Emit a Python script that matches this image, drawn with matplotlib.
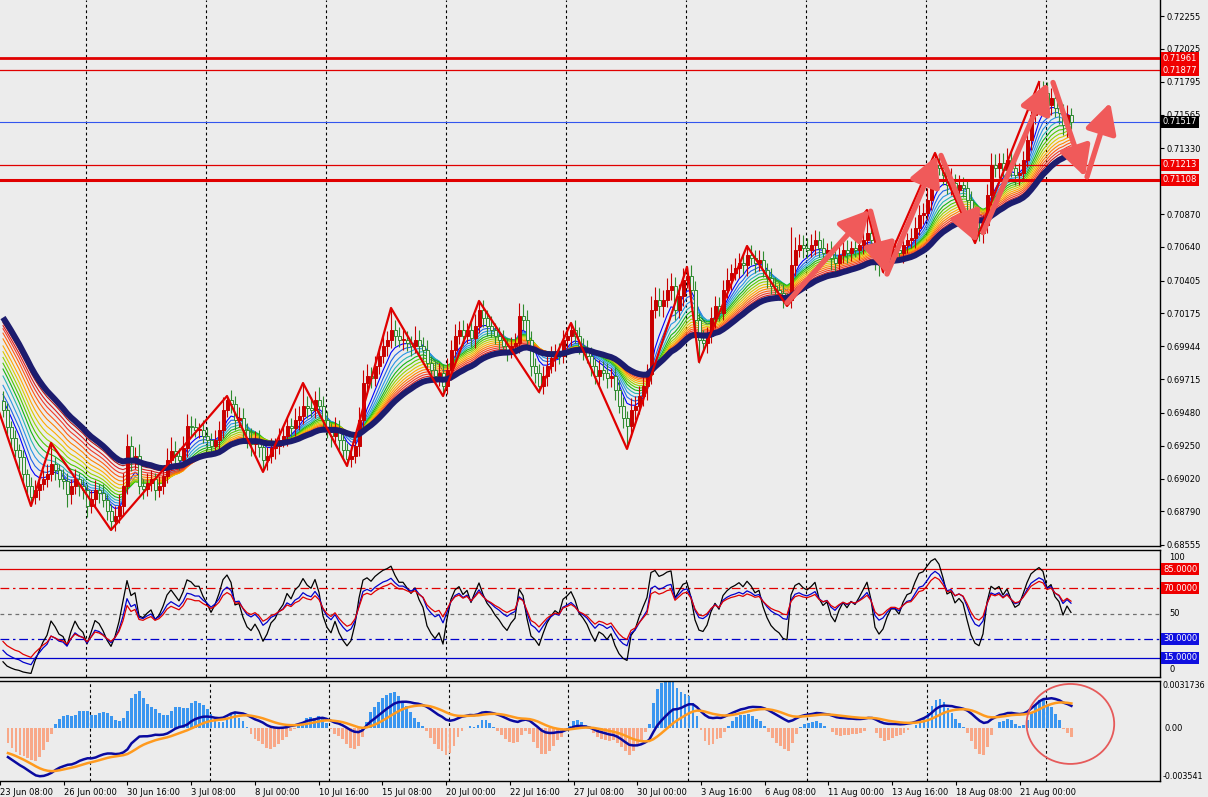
import matplotlib
matplotlib.use('Agg')
import matplotlib.pyplot as plt
from matplotlib.patches import Ellipse

plt.rcParams['font.family'] = ['DejaVu Sans']

# ---- price data (H4 closes) ----
closes = [
    0.6950, 0.6938, 0.6930, 0.6922, 0.6917, 0.6905, 0.6897, 0.6889, 0.6894, 0.6898,
    0.6902, 0.6905, 0.6912, 0.6908, 0.6902, 0.6900, 0.6891, 0.6897, 0.6902, 0.6897,
    0.6894, 0.6883, 0.6888, 0.6894, 0.6892, 0.6887, 0.6879, 0.6872, 0.6876, 0.6883,
    0.6897, 0.6925, 0.6914, 0.6918, 0.6897, 0.6895, 0.6899, 0.6902, 0.6894, 0.6897,
    0.6904, 0.6915, 0.6921, 0.6918, 0.6915, 0.6923, 0.6939, 0.6938, 0.6936, 0.6936,
    0.6932, 0.6929, 0.6925, 0.6929, 0.6936, 0.6950, 0.6957, 0.6954, 0.6943, 0.6944,
    0.6936, 0.6929, 0.6926, 0.6929, 0.6924, 0.6915, 0.6918, 0.6923, 0.6925, 0.6929,
    0.6932, 0.6939, 0.6937, 0.6943, 0.6946, 0.6953, 0.6951, 0.6950, 0.6957, 0.6953,
    0.6943, 0.6936, 0.6932, 0.6937, 0.6929, 0.6922, 0.6916, 0.6918, 0.6925, 0.6943,
    0.6969, 0.6974, 0.6972, 0.6981, 0.6988, 0.6995, 0.6999, 0.7006, 0.7002, 0.6999,
    0.6999, 0.6997, 0.6995, 0.6999, 0.6995, 0.6992, 0.6983, 0.6978, 0.6974, 0.6976,
    0.6967, 0.6978, 0.6992, 0.7002, 0.7006, 0.7002, 0.7006, 0.7000, 0.7009, 0.7020,
    0.7014, 0.7009, 0.7006, 0.7002, 0.6999, 0.6995, 0.6992, 0.6995, 0.6997, 0.7016,
    0.7013, 0.6999, 0.6981, 0.6976, 0.6967, 0.6974, 0.6981, 0.6986, 0.6990, 0.6988,
    0.6999, 0.7002, 0.7006, 0.7002, 0.6995, 0.6992, 0.6988, 0.6981, 0.6974, 0.6978,
    0.6976, 0.6972, 0.6974, 0.6964, 0.6953, 0.6944, 0.6939, 0.6950, 0.6953, 0.6960,
    0.6967, 0.6975, 0.7020, 0.7027, 0.7023, 0.7027, 0.7034, 0.7037, 0.7020, 0.7030,
    0.7041, 0.7044, 0.7034, 0.7013, 0.6999, 0.6997, 0.7002, 0.7014, 0.7023, 0.7018,
    0.7034, 0.7041, 0.7046, 0.7049, 0.7053, 0.7051, 0.7058, 0.7056, 0.7053, 0.7055,
    0.7048, 0.7042, 0.7037, 0.7034, 0.7032, 0.7028, 0.7027, 0.7051, 0.7062, 0.7065,
    0.7063, 0.7062, 0.7065, 0.7069, 0.7063, 0.7060, 0.7062, 0.7056, 0.7053, 0.7058,
    0.7062, 0.7060, 0.7063, 0.7062, 0.7065, 0.7069, 0.7074, 0.7069, 0.7056, 0.7051,
    0.7053, 0.7058, 0.7062, 0.7062, 0.7060, 0.7065, 0.7069, 0.7070, 0.7077, 0.7086,
    0.7088, 0.7097, 0.7111, 0.7121, 0.7119, 0.7114, 0.7107, 0.7109, 0.7104, 0.7107,
    0.7105, 0.7097, 0.7086, 0.7077, 0.7074, 0.7079, 0.7100, 0.7121, 0.7119, 0.7123,
    0.7118, 0.7125, 0.7119, 0.7114, 0.7116, 0.7125, 0.7139, 0.7156, 0.7165, 0.7174,
    0.7172, 0.7163, 0.7168, 0.7161, 0.7158, 0.7149, 0.7156, 0.71517,
]
first_open = 0.6956

# wick lengths in pips above max(open, close) and below min(open, close)
upper_wick = [
    7, 5, 4, 6, 4, 5, 4, 6, 7, 5, 6, 7, 15, 5, 4, 7, 6, 5, 7, 4,
    5, 4, 6, 7, 4, 6, 4, 5, 7, 8, 9, 8, 7, 6, 8, 5, 7, 6, 4, 7,
    6, 8, 10, 7, 5, 9, 8, 7, 6, 5, 7, 6, 5, 7, 6, 9, 3, 7, 6, 8,
    7, 5, 8, 6, 7, 4, 6, 7, 5, 8, 6, 7, 5, 8, 7, 16, 7, 8, 6, 9,
    7, 6, 5, 8, 6, 7, 5, 7, 8, 9, 9, 8, 6, 7, 7, 8, 6, 15, 7, 6,
    7, 6, 5, 10, 7, 6, 7, 5, 6, 7, 6, 8, 7, 8, 6, 7, 5, 7, 8, 6,
    7, 6, 7, 5, 6, 7, 5, 6, 7, 9, 8, 7, 6, 5, 6, 7, 8, 9, 6, 7,
    7, 6, 5, 7, 6, 5, 7, 6, 5, 7, 6, 7, 5, 6, 7, 6, 5, 8, 7, 7,
    6, 7, 10, 9, 8, 7, 8, 9, 6, 8, 8, 6, 7, 6, 5, 7, 6, 8, 7, 6,
    7, 8, 6, 7, 7, 6, 7, 7, 6, 7, 6, 5, 7, 6, 5, 6, 4, 27, 9, 8,
    7, 7, 8, 7, 6, 7, 5, 6, 7, 7, 6, 7, 5, 6, 7, 8, 16, 7, 6, 5,
    6, 7, 5, 7, 6, 7, 5, 7, 8, 7, 7, 8, 8, 9, 7, 6, 5, 10, 6, 7,
    6, 5, 6, 5, 6, 7, 8, 9, 8, 7, 7, 8, 6, 7, 7, 6, 7, 7, 6, 5,
    6, 7, 7, 6, 8, 6, 7, 5,
]
lower_wick = [
    5, 7, 6, 5, 8, 6, 7, 6, 5, 7, 4, 6, 5, 7, 6, 5, 9, 7, 6, 7,
    6, 8, 5, 6, 7, 5, 6, 6, 7, 5, 7, 6, 7, 5, 6, 7, 5, 6, 7, 5,
    6, 5, 7, 6, 7, 5, 6, 7, 5, 6, 5, 7, 6, 5, 7, 6, 5, 6, 7, 5,
    7, 6, 8, 7, 7, 8, 7, 5, 7, 6, 5, 7, 6, 5, 7, 6, 7, 5, 6, 8,
    7, 6, 8, 5, 7, 6, 5, 6, 5, 7, 7, 6, 7, 5, 6, 5, 7, 6, 7, 5,
    7, 6, 7, 5, 6, 7, 5, 7, 6, 7, 7, 6, 7, 5, 6, 7, 5, 6, 7, 5,
    6, 7, 5, 6, 7, 5, 8, 6, 5, 7, 7, 6, 7, 7, 5, 6, 7, 5, 9, 6,
    5, 6, 7, 5, 6, 7, 5, 7, 6, 7, 5, 7, 6, 7, 5, 7, 16, 8, 7, 6,
    7, 10, 7, 6, 7, 8, 5, 7, 7, 6, 7, 6, 7, 7, 16, 6, 7, 5, 7, 6,
    5, 6, 7, 5, 7, 6, 7, 5, 7, 6, 5, 7, 6, 7, 5, 7, 4, 6, 7, 5,
    7, 6, 5, 7, 6, 7, 5, 8, 7, 6, 5, 7, 6, 5, 7, 6, 7, 5, 8, 7,
    5, 6, 7, 5, 6, 7, 5, 6, 7, 5, 6, 5, 7, 6, 5, 7, 6, 7, 5, 7,
    6, 7, 7, 10, 6, 7, 5, 7, 6, 7, 5, 7, 6, 7, 7, 6, 5, 7, 6, 7,
    7, 6, 7, 6, 8, 7, 8, 5,
]

# zigzag pivots (bar index, price)
zz_idx = [-6, 7, 12, 27, 56, 65, 75, 86, 97, 110, 119, 134, 142, 156,
          171, 174, 186, 196, 216, 220, 233, 243, 259]
zz_price = [0.6990, 0.68828, 0.69269, 0.68660, 0.69597, 0.69066, 0.69688,
            0.69108, 0.70213, 0.69597, 0.70262, 0.69625, 0.70108, 0.69227,
            0.70500, 0.69835, 0.70646, 0.70227, 0.70898, 0.70465, 0.71297,
            0.70667, 0.71793]

# hand drawn arrows: (start bar, start price, end bar, end price)
arrows = [
    (196.0, 0.7025, 216.7, 0.7090),
    (216.9, 0.7089, 221.0, 0.7045),
    (221.0, 0.7045, 233.5, 0.7128),
    (234.5, 0.7128, 243.5, 0.7067),
    (245.0, 0.7074, 261.2, 0.7179),
    (262.5, 0.7179, 270.5, 0.7113),
    (271.0, 0.7113, 276.8, 0.7165),
]

# horizontal levels on the price panel
levels = [0.71961, 0.71877, 0.71517, 0.71213, 0.71108]
level_colors = ['#E00000', '#E00000', '#3355EE', '#E00000', '#E00000']
level_widths = [2.0, 0.9, 0.8, 0.9, 2.2]
level_box = ['#F00000', '#F00000', '#000000', '#F00000', '#F00000']

price_ticks = [0.72255, 0.72025, 0.71795, 0.71565, 0.71330, 0.70870, 0.70640,
               0.70405, 0.70175, 0.69944, 0.69715, 0.69480, 0.69250, 0.69020,
               0.68790, 0.68555]

# moving average ribbon: periods (fast -> slow) and their values at the left edge
ribbon_periods = [6, 8, 10, 12, 14, 16, 18, 20, 22, 24, 26, 28, 30, 32]
ribbon_start = [0.6959, 0.6964, 0.6971, 0.6978, 0.6983, 0.6987, 0.6991,
                0.6995, 0.6999, 0.7004, 0.7008, 0.7011, 0.7013, 0.7015]
ribbon_colors = ['#0000FF', '#1E64E6', '#2896E6', '#28B4B4', '#14B414', '#50C800',
                 '#96D200', '#DCC800', '#FFAA00', '#FF8200', '#FF5A14', '#F03C28',
                 '#DC1E1E', '#B41414']
slow_period = 34
slow_start = 0.70185

# oscillator (three RSI lines) periods and starting levels
osc_periods = [7, 13, 17]
osc_start = [12, 21, 28]
osc_colors = ['black', '#0000CC', '#E00000']

# MACD starting states
ema12_start, ema26_start, signal_start = 0.6984, 0.7002, -0.0016
hist_gain = 3.6

# time axis
time_labels = ['23 Jun 08:00', '26 Jun 00:00', '30 Jun 16:00', '3 Jul 08:00',
               '8 Jul 00:00', '10 Jul 16:00', '15 Jul 08:00', '20 Jul 00:00',
               '22 Jul 16:00', '27 Jul 08:00', '30 Jul 00:00', '3 Aug 16:00',
               '6 Aug 08:00', '11 Aug 00:00', '13 Aug 16:00', '18 Aug 08:00',
               '21 Aug 00:00']
label_idx = [-2 + 16 * k for k in range(len(time_labels))]
grid_idx = [20.7 + 30 * k for k in range(9)]


def ema(values, period, start):
    a = 2.0 / (period + 1)
    out = []
    v = start
    for x in values:
        v = v + a * (x - v)
        out.append(v)
    return out


def rsi(values, period, start_level):
    gain = 0.0006 * start_level / 100
    loss = 0.0006 * (100 - start_level) / 100
    prev = values[0]
    out = []
    for x in values:
        d = x - prev
        prev = x
        gain = (gain * (period - 1) + max(d, 0)) / period
        loss = (loss * (period - 1) + max(-d, 0)) / period
        out.append(100 * gain / (gain + loss))
    return out


PIP = 0.0001
n = len(closes)
idx = list(range(n))
opens = [first_open] + closes[:-1]
highs = [max(o, c) + u * PIP for o, c, u in zip(opens, closes, upper_wick)]
lows = [min(o, c) - l * PIP for o, c, l in zip(opens, closes, lower_wick)]

BG = '#ECECEC'
W, H = 1208, 797
fig = plt.figure(figsize=(W / 100, H / 100), dpi=100, facecolor=BG)
right = 1160 / W
ax = fig.add_axes([0, 1 - 546 / H, right, 546 / H], facecolor=BG)
ax2 = fig.add_axes([0, 1 - 677 / H, right, 127 / H], facecolor=BG)
ax3 = fig.add_axes([0, 1 - 781 / H, right, 100 / H], facecolor=BG)

x_lo, x_hi = -0.75, 289.25
for a in (ax, ax2, ax3):
    a.set_xlim(x_lo, x_hi)
    for g in grid_idx:
        a.axvline(g, color='black', lw=0.8, ls=(0, (2.5, 2.5)), zorder=1)
    a.spines['left'].set_visible(False)
    for s in ('top', 'bottom', 'right'):
        a.spines[s].set_color('black')
        a.spines[s].set_linewidth(1.0)
    a.yaxis.tick_right()
    a.tick_params(axis='y', labelsize=6, length=3, pad=2, colors='black')
    a.tick_params(axis='x', bottom=False, labelbottom=False)

# ---- price panel ----
ax.spines['top'].set_visible(False)
ax.set_ylim(0.68548, 0.72367)

for p, st, col in zip(ribbon_periods, ribbon_start, ribbon_colors):
    ax.plot(idx, ema(closes, p, st), color=col, lw=0.8, zorder=2)

bull_i = [i for i in idx if closes[i] >= opens[i]]
bear_i = [i for i in idx if closes[i] < opens[i]]
for group, face, edge in ((bull_i, '#C80000', '#C80000'), (bear_i, BG, '#2E8B2E')):
    ax.vlines(group, [lows[i] for i in group], [highs[i] for i in group],
              color=edge, lw=0.8, zorder=3)
    ax.bar(group, [max(abs(closes[i] - opens[i]), 0.00003) for i in group],
           bottom=[min(closes[i], opens[i]) for i in group], width=0.75,
           color=face, edgecolor=edge, linewidth=0.7, zorder=4)

ax.plot(idx, ema(closes, slow_period, slow_start), color='#1C1C6E', lw=4.3,
        solid_capstyle='butt', zorder=5)

ax.plot(zz_idx, zz_price, color='#E00000', lw=1.6, zorder=6)

for lv, col, lw in zip(levels, level_colors, level_widths):
    ax.axhline(lv, color=col, lw=lw, zorder=3)

for x0, y0, x1, y1 in arrows:
    ax.annotate('', xy=(x1, y1), xytext=(x0, y0),
                arrowprops=dict(arrowstyle='-|>,head_length=0.95,head_width=0.5',
                                color='#F05A5A', lw=3.8, mutation_scale=19,
                                shrinkA=0, shrinkB=0), zorder=8)

ax.set_yticks(price_ticks)
ax.set_yticklabels(['%.5f' % t for t in price_ticks])
for lv, fc in zip(levels, level_box):
    ax.text(1.0025, lv, '%.5f' % lv, transform=ax.get_yaxis_transform(),
            fontsize=6, color='white', va='center', ha='left', zorder=10,
            bbox=dict(boxstyle='square,pad=0.18', fc=fc, ec='none'), clip_on=False)

# ---- oscillator panel ----
ax2.set_ylim(0, 100)
ax2.set_yticks([])
for lv, col, ls in ((85, '#E00000', '-'), (70, '#E00000', (0, (7, 3, 2, 3))),
                    (50, '#707070', (0, (3, 3))), (30, '#0000CC', (0, (7, 3, 2, 3))),
                    (15, '#0000CC', '-')):
    ax2.axhline(lv, color=col, lw=0.9, ls=ls, zorder=2)
for p, st, col in zip(osc_periods, osc_start, osc_colors):
    ax2.plot(idx, rsi(closes, p, st), color=col, lw=0.9, zorder=3)
ytr = ax2.get_yaxis_transform()
ax2.text(1.008, 98, '100', transform=ytr, fontsize=6, va='top', ha='left')
ax2.text(1.008, 50, '50', transform=ytr, fontsize=6, va='center', ha='left')
ax2.text(1.008, 2, '0', transform=ytr, fontsize=6, va='bottom', ha='left')
for lv, fc in ((85, '#F00000'), (70, '#F00000'), (30, '#1010E0'), (15, '#1010E0')):
    ax2.text(1.0025, lv, '%.4f' % lv, transform=ytr, fontsize=6, color='white',
             va='center', ha='left', bbox=dict(boxstyle='square,pad=0.18', fc=fc, ec='none'))

# ---- MACD panel ----
macd_lo, macd_hi = -0.003541, 0.0031736
ax3.set_ylim(macd_lo, macd_hi)
ax3.set_yticks([])
macd = [a - b for a, b in zip(ema(closes, 12, ema12_start), ema(closes, 26, ema26_start))]
signal = ema(macd, 9, signal_start)
hist = [hist_gain * (m - s) for m, s in zip(macd, signal)]
ax3.bar(idx, hist, width=0.7, color=['#3A96F0' if h >= 0 else '#F8A888' for h in hist],
        zorder=2)
ax3.plot(idx, macd, color='#0A0AA0', lw=1.8, zorder=3)
ax3.plot(idx, signal, color='#FF9A1E', lw=1.8, zorder=4)
ax3.add_patch(Ellipse((266.75, 0.00029), 22, 0.00537, fill=False, ec='#E65A5A',
                      lw=1.3, zorder=6, clip_on=False))
ytr3 = ax3.get_yaxis_transform()
ax3.text(1.002, macd_hi, '0.0031736', transform=ytr3, fontsize=5.8, va='top', ha='left')
ax3.text(1.004, 0, '0.00', transform=ytr3, fontsize=6, va='center', ha='left')
ax3.text(1.002, macd_lo, '-0.003541', transform=ytr3, fontsize=5.8, va='bottom', ha='left')

ax3.set_xticks(label_idx)
ax3.set_xticklabels(time_labels)
ax3.tick_params(axis='x', bottom=True, labelbottom=True, labelsize=6, length=3, pad=2)
for lab in ax3.get_xticklabels():
    lab.set_ha('left')

fig.savefig('out.png', dpi=100, facecolor=BG)
